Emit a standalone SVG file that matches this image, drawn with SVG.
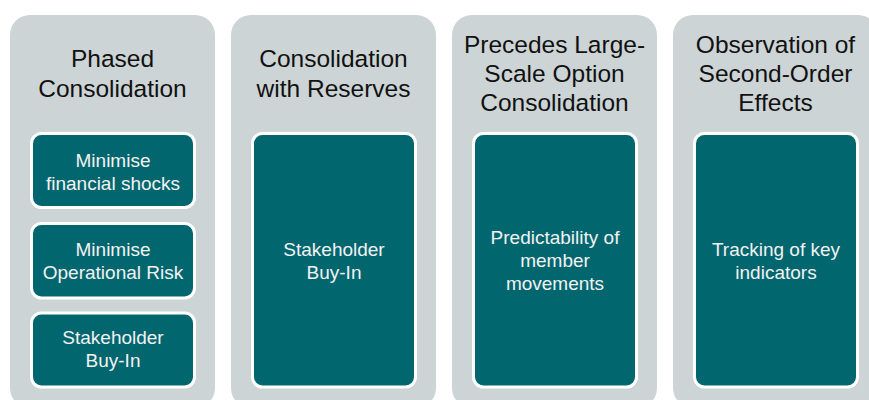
<svg xmlns="http://www.w3.org/2000/svg" width="869" height="400" viewBox="0 0 869 400">
<style>
.col{fill:#CDD4D6}
.box{fill:#02666F;stroke:#FFFFFF;stroke-width:3}
.hd{font-family:"Liberation Sans",Arial,sans-serif;font-size:24.5px;fill:#111111;text-anchor:middle}
.bt{font-family:"Liberation Sans",Arial,sans-serif;font-size:19px;fill:#F2F2F2;text-anchor:middle}
</style>
<rect width="869" height="400" fill="#FFFFFF"/>
<g id="col1">
<rect class="col" x="10" y="15" width="205" height="393" rx="20"/>
<text class="hd" x="112.5" y="67">Phased</text>
<text class="hd" x="112.5" y="97">Consolidation</text>
</g>
<g id="col2">
<rect class="col" x="231" y="15" width="205" height="393" rx="20"/>
<text class="hd" x="333.5" y="67">Consolidation</text>
<text class="hd" x="333.5" y="97">with Reserves</text>
</g>
<g id="col3">
<rect class="col" x="452" y="15" width="205" height="393" rx="20"/>
<text class="hd" x="554.5" y="53">Precedes Large-</text>
<text class="hd" x="554.5" y="82">Scale Option</text>
<text class="hd" x="554.5" y="111">Consolidation</text>
</g>
<g id="col4">
<rect class="col" x="673" y="15" width="205" height="393" rx="20"/>
<text class="hd" x="775.5" y="53">Observation of</text>
<text class="hd" x="775.5" y="82">Second-Order</text>
<text class="hd" x="775.5" y="111">Effects</text>
</g>
<g id="box1a">
<rect class="box" x="31.5" y="133.5" width="163" height="74" rx="10"/>
<text class="bt" x="113" y="167">Minimise</text>
<text class="bt" x="113" y="190">financial shocks</text>
</g>
<g id="box1b">
<rect class="box" x="31.5" y="223.5" width="163" height="74.5" rx="10"/>
<text class="bt" x="113" y="256">Minimise</text>
<text class="bt" x="113" y="279">Operational Risk</text>
</g>
<g id="box1c">
<rect class="box" x="31.5" y="313" width="163" height="74" rx="10"/>
<text class="bt" x="113" y="344">Stakeholder</text>
<text class="bt" x="113" y="367">Buy-In</text>
</g>
<g id="box2">
<rect class="box" x="252.5" y="133.5" width="163" height="253.5" rx="10"/>
<text class="bt" x="334" y="256">Stakeholder</text>
<text class="bt" x="334" y="279">Buy-In</text>
</g>
<g id="box3">
<rect class="box" x="473.5" y="133.5" width="163" height="253.5" rx="10"/>
<text class="bt" x="555" y="244">Predictability of</text>
<text class="bt" x="555" y="267">member</text>
<text class="bt" x="555" y="290">movements</text>
</g>
<g id="box4">
<rect class="box" x="694.5" y="133.5" width="163" height="253.5" rx="10"/>
<text class="bt" x="776" y="256">Tracking of key</text>
<text class="bt" x="776" y="279">indicators</text>
</g>
<g id="connectors"></g>
</svg>
